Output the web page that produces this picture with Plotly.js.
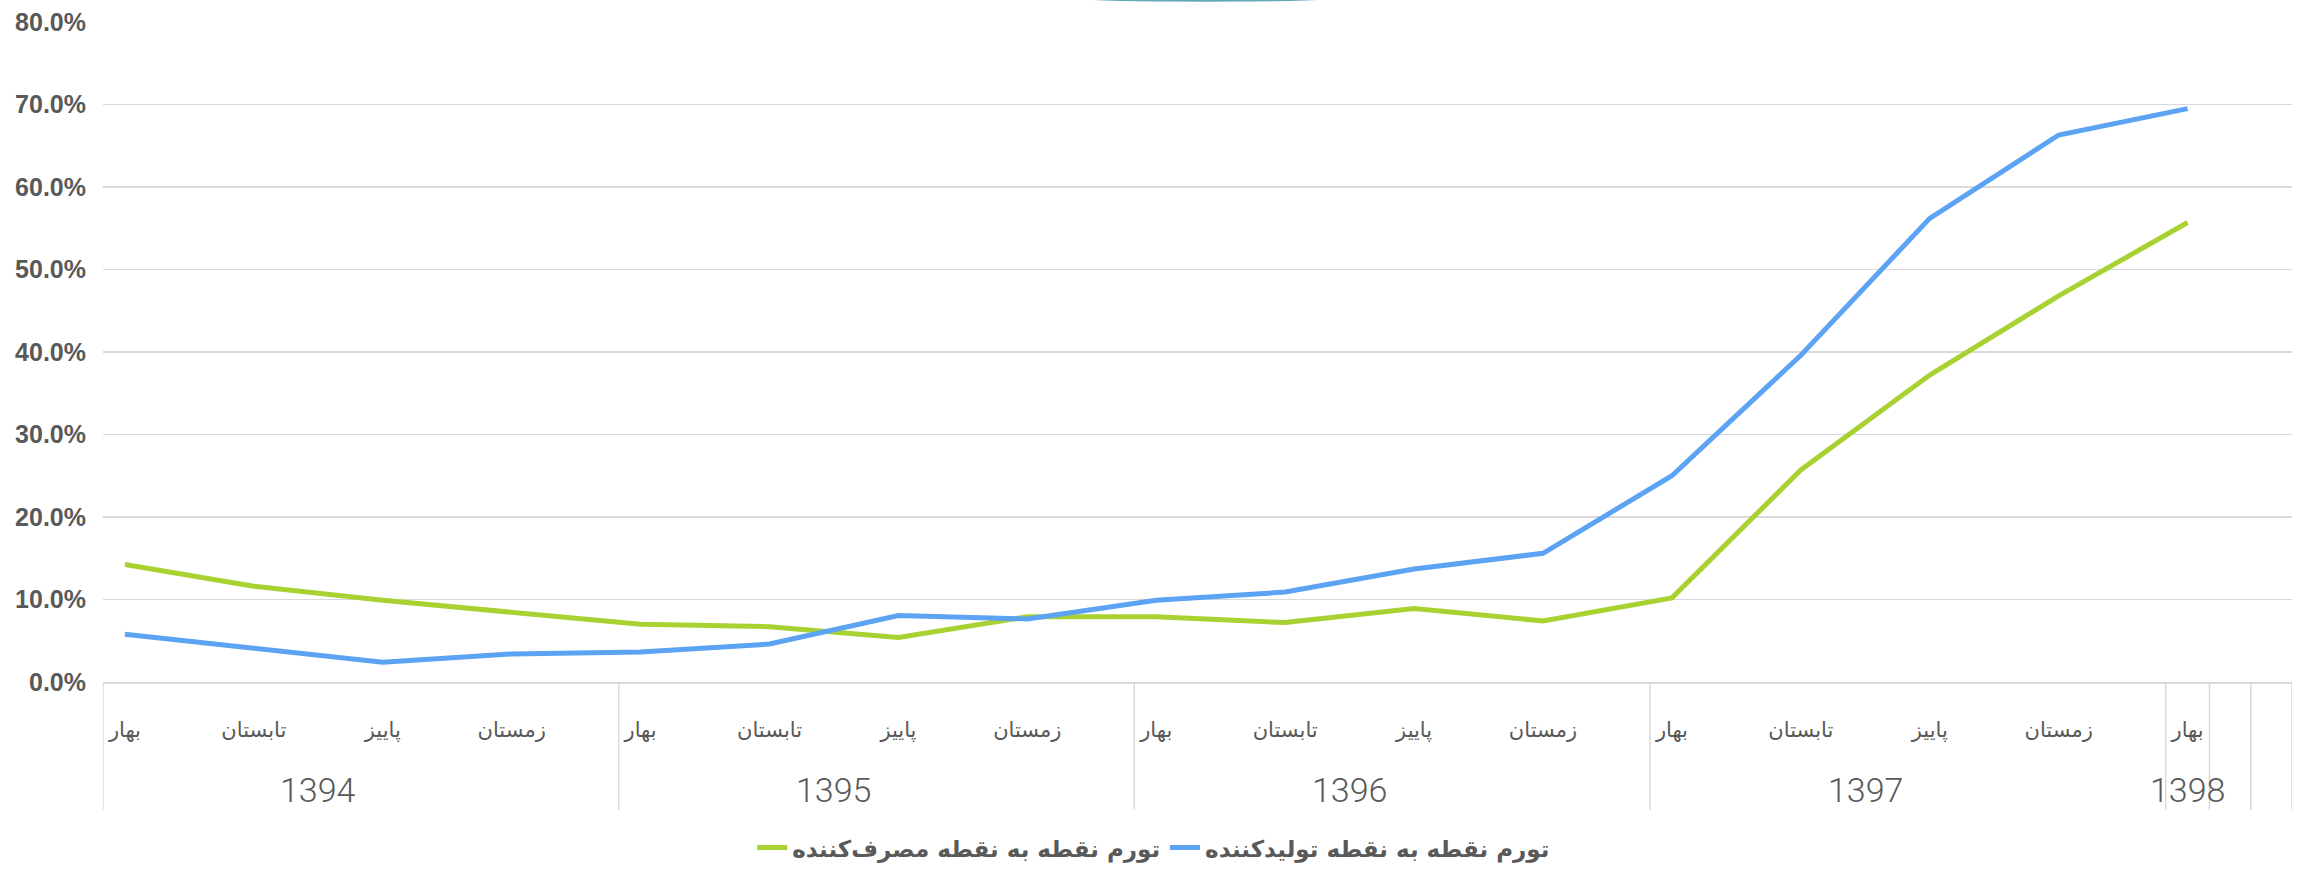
<!DOCTYPE html>
<html>
<head>
<meta charset="utf-8">
<script src="https://cdn.plot.ly/plotly-3.0.1.min.js"></script>
<style>html,body{margin:0;padding:0;background:#fff;}#chart{width:2298px;height:875px;}</style>
</head>
<body>
<div id="chart"></div>
<script>
// ---- data ----
const years = ["1394","1394","1394","1394","1395","1395","1395","1395","1396","1396","1396","1396","1397","1397","1397","1397","1398"];
const seasons = ["بهار","تابستان","پاییز","زمستان","بهار","تابستان","پاییز","زمستان","بهار","تابستان","پاییز","زمستان","بهار","تابستان","پاییز","زمستان","بهار"];
const consumerName = "تورم نقطه به نقطه مصرف‌کننده";
const producerName = "تورم نقطه به نقطه تولیدکننده";
const consumer = [0.1425,0.116,0.099,0.085,0.070,0.067,0.054,0.079,0.079,0.072,0.089,0.074,0.102,0.257,0.372,0.468,0.557];
const producer = [0.058,0.041,0.024,0.034,0.0365,0.046,0.0805,0.0765,0.099,0.109,0.137,0.156,0.250,0.396,0.562,0.663,0.695];

// ---- layout helpers ----
const idx = seasons.map((_, i) => i);
const edgeOffset = 0.17;            // gap between a group boundary and its first point
const xMax = 16.81;                  // right end of category axis
const xMin = -edgeOffset;
const grey = "#595959";
const lineGrey = "#d9d9d9";

// group boundaries from the year array
const groups = [];
years.forEach((y, i) => {
  if (i === 0 || years[i - 1] !== y) groups.push({year: y, start: i, end: i});
  else groups[groups.length - 1].end = i;
});
const dividers = groups.map(g => g.start - edgeOffset);
const lastEnd = groups[groups.length - 1].end + edgeOffset;
dividers.push(lastEnd, (lastEnd + xMax) / 2, xMax);

const shapes = dividers.map(d => ({
  type: "line", xref: "x", yref: "paper", x0: d, x1: d, y0: 0, y1: -0.1935,
  line: {color: lineGrey, width: 1.5}, layer: "below"
}));
// small teal decoration peeking at the top edge
shapes.push({type: "circle", xref: "paper", yref: "paper",
  x0: (1205 - 180 - 103) / 2189, x1: (1205 + 180 - 103) / 2189,
  y0: (684 - 2) / 661.7, y1: (684 + 14) / 661.7,
  fillcolor: "rgba(46,139,160,0.75)", line: {width: 0}});

const annotations = groups.map(g => ({
  x: (g.start - edgeOffset + g.end + edgeOffset) / 2, xref: "x",
  y: -0.163, yref: "paper", yanchor: "middle", xanchor: "center",
  text: g.year, showarrow: false,
  font: {family: "Liberation Sans Narrow, Roboto, sans-serif", size: 34, color: grey, weight: 300}
}));

const traces = [
  {x: idx, y: consumer, name: consumerName, type: "scatter", mode: "lines",
   line: {color: "#A8D232", width: 5}, hoverinfo: "skip"},
  {x: idx, y: producer, name: producerName, type: "scatter", mode: "lines",
   line: {color: "#5CA3F4", width: 5}, hoverinfo: "skip"}
];

const layout = {
  width: 2298, height: 875,
  margin: {l: 103, r: 6, t: 22, b: 191},
  paper_bgcolor: "#fff", plot_bgcolor: "#fff",
  showlegend: true,
  legend: {orientation: "h", x: 0.48, xanchor: "center", y: -0.251, yanchor: "middle",
    font: {family: "DejaVu Sans, sans-serif", size: 23, color: grey, weight: "bold"},
    traceorder: "normal", itemwidth: 30},
  xaxis: {range: [xMin, xMax], tickvals: idx, ticktext: seasons, ticks: "",
    showgrid: false, zeroline: false, showline: true, linecolor: lineGrey, linewidth: 1.5,
    ticklabelstandoff: 28,
    tickfont: {family: "DejaVu Sans, sans-serif", size: 21, color: grey}},
  yaxis: {range: [0, 0.8], dtick: 0.1, tickformat: ".1%", showgrid: true,
    gridcolor: lineGrey, gridwidth: 1.5, zeroline: false, showline: false, ticks: "",
    ticklabelstandoff: 16,
    tickfont: {family: "Liberation Sans, Arial, sans-serif", size: 25, color: grey, weight: "bold"}},
  shapes: shapes,
  annotations: annotations
};

Plotly.newPlot("chart", traces, layout, {displayModeBar: false, staticPlot: true});
</script>
</body>
</html>
